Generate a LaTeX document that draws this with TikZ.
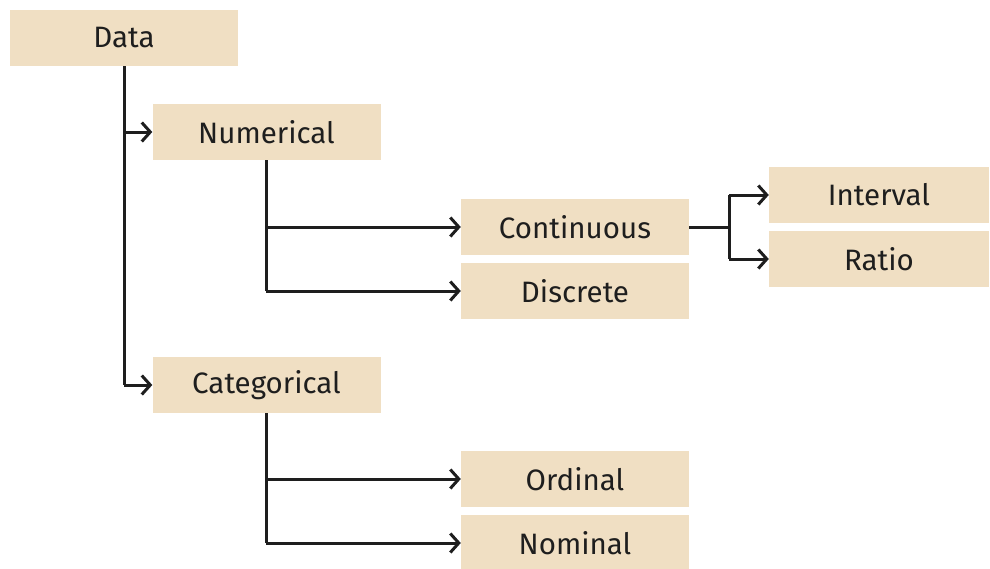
\documentclass[tikz,border=0pt]{standalone}
\usepackage{fontspec}
\setmainfont{Fira Sans}
\usetikzlibrary{arrows.meta}
\definecolor{boxfill}{RGB}{240,223,195}
\definecolor{ink}{RGB}{30,30,30}
\begin{document}
\begin{tikzpicture}[x=1pt,y=-1pt,
  box/.style={fill=boxfill,draw=none,minimum height=56pt,inner sep=0pt,
    text=ink,font=\fontsize{29.5}{32}\selectfont},
  wide/.style={box,minimum width=228pt},
  wider/.style={box,minimum width=220pt},
  link/.style={draw=ink,line width=3pt,-{Straight Barb[length=8.5pt,width=19pt,line width=3pt]}},
  plain/.style={draw=ink,line width=3pt}]
\useasboundingbox[fill=white] (0,0) rectangle (990,568);
\node[wide] (data) at (124,38) {Data};
\node[wide] (num) at (266.5,132) {Numerical};
\node[wide] (cont) at (575,227) {Continuous};
\node[wide] (disc) at (575,291) {Discrete};
\node[wider] (int) at (879,195) {Interval};
\node[wider] (ratio) at (879,259) {Ratio};
\node[wide] (cat) at (266.5,385) {Categorical};
\node[wide] (ord) at (575,479) {Ordinal};
\node[wide] (nom) at (575,543) {Nominal};
% trunk from Data
\coordinate (dj) at (124,385);
\draw[plain] (data.south -| dj) -- (dj);
\draw[link] (dj |- num.west) -- (num.west);
\draw[link] (dj) -- (cat.west);
% Numerical branch
\coordinate (nj) at (266,291);
\draw[plain] (num.south -| nj) -- (nj);
\draw[link] (nj |- cont.west) -- (cont.west);
\draw[link] (nj) -- (disc.west);
% Continuous branch
\coordinate (cj) at (729,227);
\draw[plain] (cont.east) -- (cj);
\draw[plain] (cj |- int.west) -- (cj |- ratio.west);
\draw[link] (cj |- int.west) -- (int.west);
\draw[link] (cj |- ratio.west) -- (ratio.west);
% Categorical branch
\coordinate (kj) at (266,543);
\draw[plain] (cat.south -| kj) -- (kj);
\draw[link] (kj |- ord.west) -- (ord.west);
\draw[link] (kj) -- (nom.west);
\end{tikzpicture}
\end{document}
